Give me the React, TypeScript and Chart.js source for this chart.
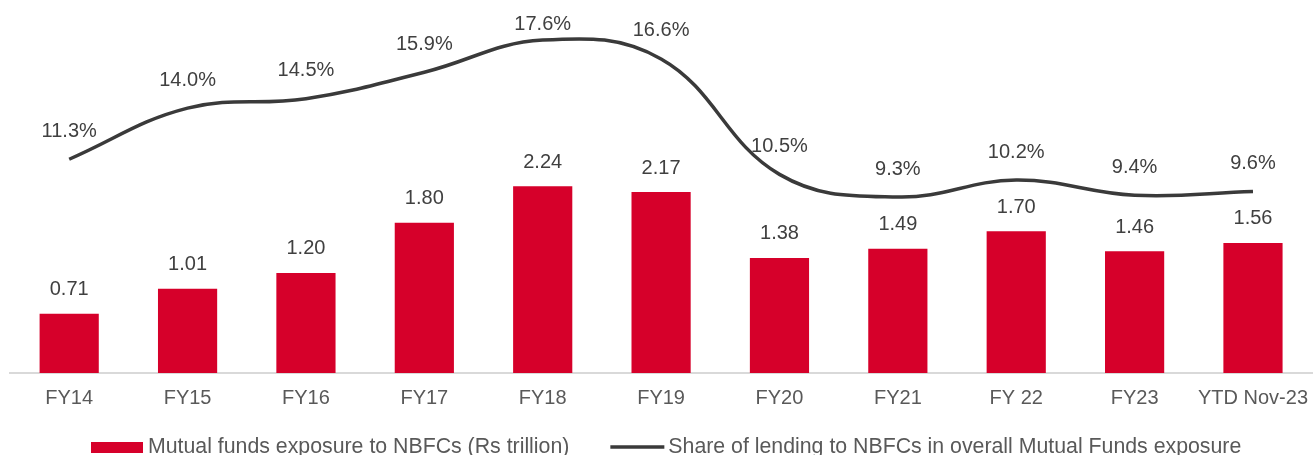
import React, { useEffect, useRef } from "react";
import { Chart, registerables } from "chart.js";

Chart.register(...registerables);

const categories = ["FY14", "FY15", "FY16", "FY17", "FY18", "FY19", "FY20", "FY21", "FY 22", "FY23", "YTD Nov-23"];
const exposureValues = [0.71, 1.01, 1.2, 1.8, 2.24, 2.17, 1.38, 1.49, 1.7, 1.46, 1.56];
const shareValues = [11.3, 14.0, 14.5, 15.9, 17.6, 16.6, 10.5, 9.3, 10.2, 9.4, 9.6];
const barLabel = "Mutual funds exposure to NBFCs (Rs trillion)";
const lineLabel = "Share of lending to NBFCs in overall Mutual Funds exposure";

const RED = "#D6002A";
const LINE = "#3A3A3A";
const TEXT = "#404040";
const FONT = "'Liberation Sans', Arial, sans-serif";

const labelsPlugin = {
  id: "valueLabels",
  afterDatasetsDraw(chart: any) {
    const ctx = chart.ctx;
    ctx.save();
    ctx.font = `20px ${FONT}`;
    ctx.fillStyle = TEXT;
    ctx.textAlign = "center";
    ctx.textBaseline = "middle";
    const barMeta = chart.getDatasetMeta(0);
    barMeta.data.forEach((el: any, i: number) => {
      ctx.fillText(exposureValues[i].toFixed(2), el.x, el.y - 24);
    });
    const lineMeta = chart.getDatasetMeta(1);
    lineMeta.data.forEach((el: any, i: number) => {
      const y = Math.max(el.y - 28, 24);
      ctx.fillText(shareValues[i].toFixed(1) + "%", el.x, y);
    });
    ctx.restore();
  },
};

const legendPlugin = {
  id: "customLegend",
  afterDraw(chart: any) {
    const ctx = chart.ctx;
    ctx.save();
    ctx.font = `21.3px ${FONT}`;
    ctx.textAlign = "left";
    ctx.textBaseline = "alphabetic";
    const baseY = 453;
    let x = 91;
    ctx.fillStyle = RED;
    ctx.fillRect(x, 442, 52, 11);
    x += 57;
    ctx.fillStyle = "#595959";
    ctx.fillText(barLabel, x, baseY);
    x += ctx.measureText(barLabel).width + 41;
    ctx.strokeStyle = LINE;
    ctx.lineWidth = 3.5;
    ctx.beginPath();
    ctx.moveTo(x, 447);
    ctx.lineTo(x + 54, 447);
    ctx.stroke();
    x += 58;
    ctx.fillText(lineLabel, x, baseY);
    ctx.restore();
  },
};

export default function App() {
  const ref = useRef<HTMLCanvasElement>(null);
  useEffect(() => {
    if (!ref.current) return;
    const chart = new Chart(ref.current, {
      type: "bar",
      data: {
        labels: categories,
        datasets: [
          {
            type: "bar",
            label: barLabel,
            data: exposureValues,
            backgroundColor: RED,
            categoryPercentage: 1,
            barPercentage: 0.5,
            yAxisID: "y",
            order: 2,
          },
          {
            type: "line",
            label: lineLabel,
            data: shareValues,
            borderColor: LINE,
            borderWidth: 3.5,
            pointRadius: 0,
            tension: 0.4,
            fill: false,
            yAxisID: "y1",
            order: 1,
          } as any,
        ],
      },
      options: {
        animation: false,
        responsive: false,
        maintainAspectRatio: false,
        layout: { padding: { top: 6, left: 10, right: 0, bottom: 32 } },
        plugins: { legend: { display: false }, tooltip: { enabled: false } },
        scales: {
          x: {
            grid: { display: false, drawTicks: false },
            border: { display: true, color: "#D9D9D9", width: 2 },
            ticks: { color: "#595959", font: { size: 20, family: FONT }, padding: 13, maxRotation: 0, autoSkip: false },
          },
          y: { display: false, min: 0, max: 4.4 },
          y1: { display: false, min: 0, max: 19.4, position: "right" },
        },
      },
      plugins: [labelsPlugin, legendPlugin],
    });
    return () => chart.destroy();
  }, []);
  return (
    <div style={{ position: "absolute", left: 0, top: 0, width: 1314, height: 455, background: "#fff", overflow: "hidden" }}>
      <canvas ref={ref} width={1321} height={455} style={{ display: "block", width: 1321, height: 455 }} />
    </div>
  );
}
